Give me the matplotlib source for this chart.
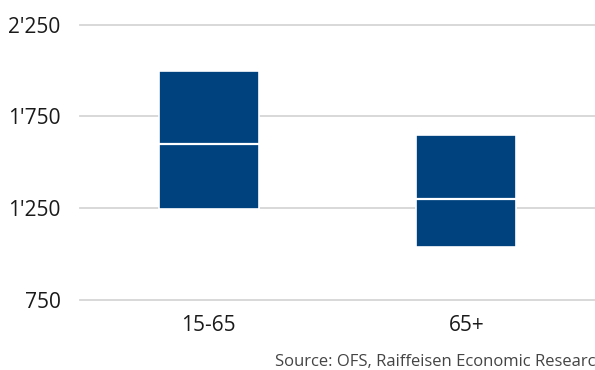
import numpy as np
import matplotlib
matplotlib.use('Agg')
import matplotlib.pyplot as plt
from matplotlib.ticker import FuncFormatter

plt.rcParams['font.family'] = ['Open Sans', 'DejaVu Sans']

# Spanne pro Altersgruppe: unteres Quartil, Median, oberes Quartil
gruppen = ['15-65', '65+']
unten = [1245, 1040]
median = [1600, 1300]
oben = [1995, 1650]

farbe = '#00427e'

fig = plt.figure(figsize=(5.95, 3.7), dpi=100)
ax = fig.add_axes([80 / 595, 1 - 299.7 / 370, 1 - 80 / 595, (299.7 - 24.7) / 370])

x = np.arange(len(gruppen))
hoehe = np.array(oben) - np.array(unten)
ax.bar(x, hoehe, bottom=unten, width=0.39, color=farbe, edgecolor='white',
       linewidth=1.2, zorder=3)
ax.hlines(median, x - 0.195, x + 0.195, colors='white', linewidth=1.6, zorder=4)

ax.set_xlim(-0.5, 1.5)
ax.set_ylim(750, 2250)
ax.set_yticks([750, 1250, 1750, 2250])
ax.yaxis.set_major_formatter(FuncFormatter(lambda v, p: f"{int(v):,}".replace(',', "'")))
ax.set_xticks(x)
ax.set_xticklabels(gruppen)

ax.grid(axis='y', color='#d6d6d6', linewidth=1.3, zorder=0)
for gl in ax.get_ygridlines():
    gl.set_clip_on(False)
ax.set_axisbelow(True)
for s in ax.spines.values():
    s.set_visible(False)
ax.tick_params(axis='both', length=0, labelsize=15, colors='#1a1a1a')
ax.tick_params(axis='y', pad=14)
ax.tick_params(axis='x', pad=11)

fig.text(275 / 595, 1 - 362 / 370, 'Source: OFS, Raiffeisen Economic Research',
         ha='left', va='center', fontsize=12, color='#444444')

fig.savefig('out.png', dpi=100)
